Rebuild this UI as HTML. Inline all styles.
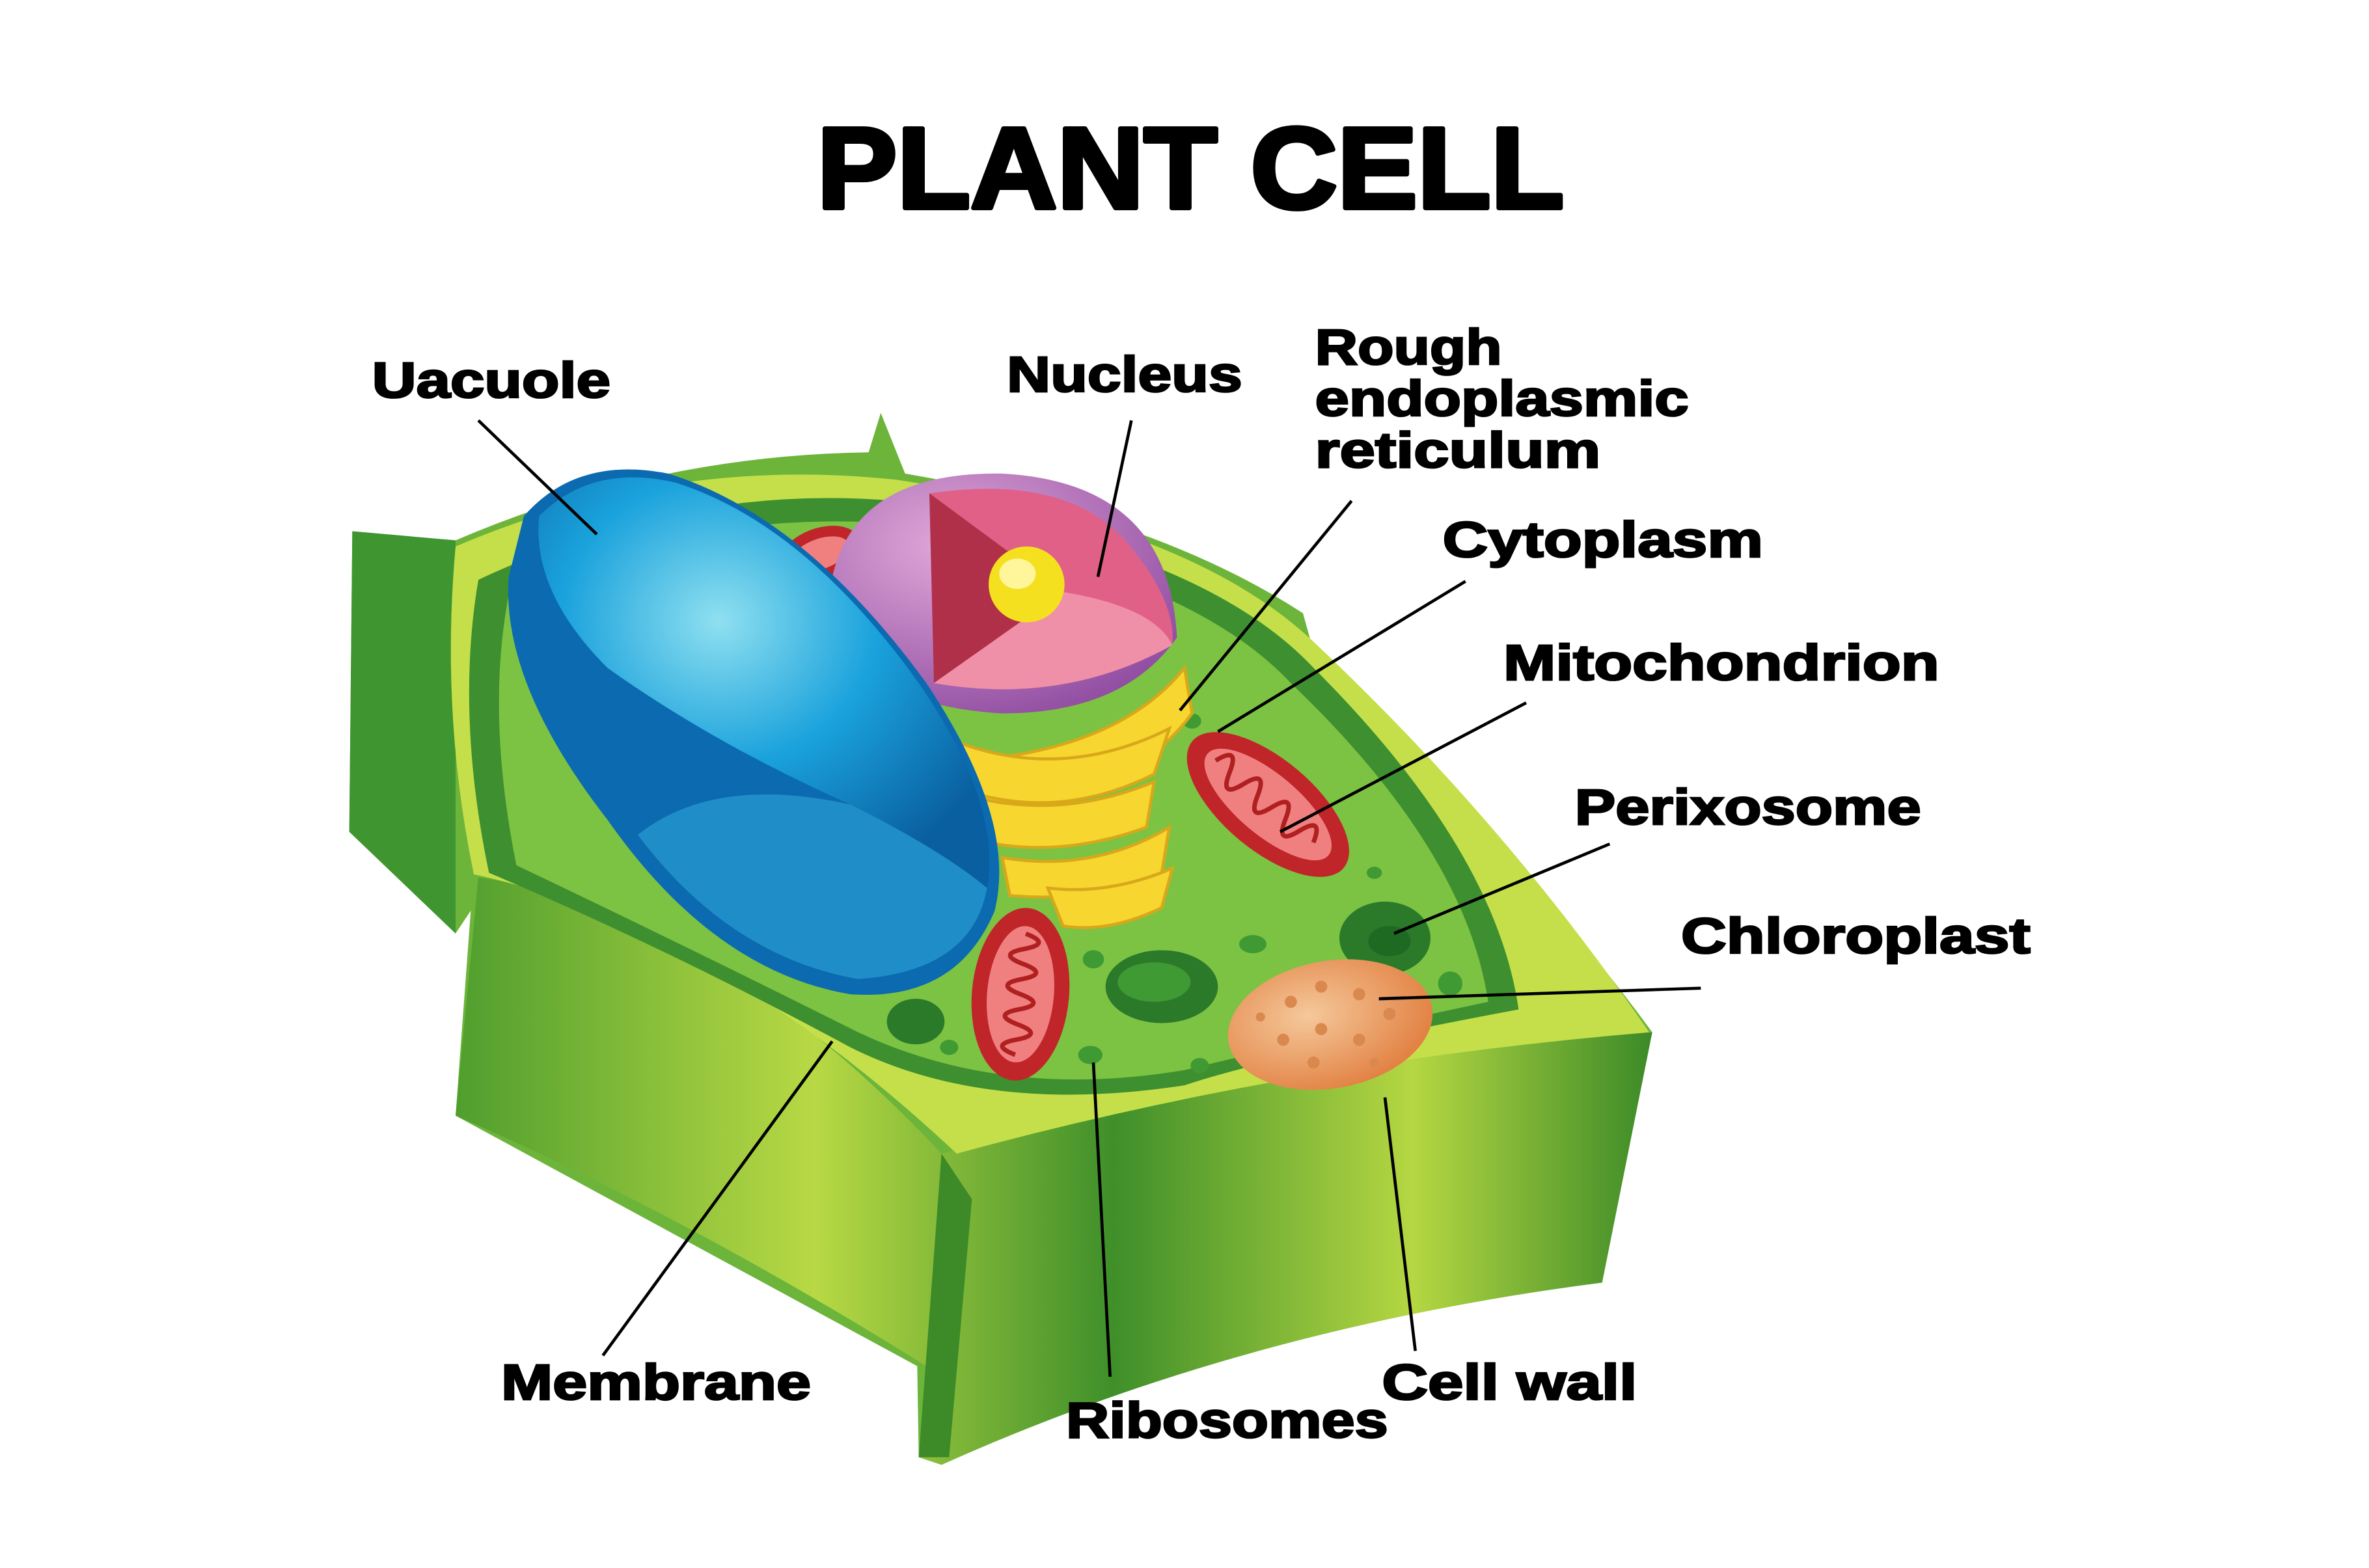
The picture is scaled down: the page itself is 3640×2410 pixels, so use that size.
<!DOCTYPE html>
<html><head><meta charset="utf-8"><style>html,body{margin:0;padding:0;background:#fff}svg{display:block}</style></head>
<body>
<svg width="3640" height="2410" viewBox="0 0 1560 1033" preserveAspectRatio="none" xmlns="http://www.w3.org/2000/svg">
<defs>
<linearGradient id="wall" x1="0" y1="0" x2="1" y2="0">
<stop offset="0" stop-color="#4f9e2e"/><stop offset="0.3" stop-color="#b8d944"/><stop offset="0.55" stop-color="#3f8f2a"/><stop offset="0.8" stop-color="#b5d742"/><stop offset="1" stop-color="#3c8a28"/></linearGradient>
<radialGradient id="vac" cx="0.4" cy="0.35" r="0.7"><stop offset="0" stop-color="#8fe0f0"/><stop offset="0.5" stop-color="#1aa2dc"/><stop offset="1" stop-color="#0a5fa0"/></radialGradient>
<radialGradient id="nuc" cx="0.35" cy="0.3" r="0.8"><stop offset="0" stop-color="#e0a8d8"/><stop offset="1" stop-color="#8e4aa0"/></radialGradient>
<radialGradient id="per" cx="0.4" cy="0.4" r="0.7"><stop offset="0" stop-color="#f5c89a"/><stop offset="1" stop-color="#e07a3a"/></radialGradient>
</defs>
<rect width="1560" height="1033" fill="#fff"/>
<text x="538" y="137" font-family="Liberation Sans, sans-serif" font-weight="bold" font-size="76" textLength="492" lengthAdjust="spacingAndGlyphs" fill="#000" stroke="#000" stroke-width="3" stroke-linejoin="round">PLANT CELL</text>
<!-- outer wall -->
<path d="M232,350 L300,356 Q430,300 572,298 L580,272 L596,312 Q760,340 858,404 L868,440 Q1000,560 1088,680 L1055,845 Q820,875 620,965 L605,960 L604,900 L300,735 L310,600 L300,615 L230,548 Z" fill="#6db43a"/>
<path d="M232,350 L300,356 L300,615 L230,548 Z" fill="#3f9530"/>
<!-- front band -->
<path d="M315,578 Q470,600 620,760 Q850,700 1088,680 L1055,845 Q820,875 620,965 L605,960 L610,900 Q450,800 300,735 Z" fill="url(#wall)"/>
<path d="M620,760 L640,790 L625,960 L605,960 Z" fill="#3d8a28"/>
<!-- top rim light -->
<path d="M300,360 Q440,300 590,316 Q780,345 862,420 Q990,540 1086,680 Q850,700 630,760 Q470,610 312,576 Q290,470 300,360Z" fill="#c4df4a"/>
<!-- cytoplasm -->
<path d="M315,382 Q450,318 590,330 Q790,360 865,440 Q985,560 1000,665 Q840,695 780,715 Q650,735 560,690 Q440,625 322,575 Q300,470 315,382Z" fill="#3e8f2f"/>
<path d="M335,392 Q455,335 590,345 Q780,375 850,450 Q965,560 980,660 Q840,690 780,705 Q660,725 565,680 Q445,620 340,570 Q320,470 335,392Z" fill="#7cc243"/>
<!-- ribosome dots -->
<g fill="#3f9a34">
<ellipse cx="490" cy="360" rx="6" ry="4"/><ellipse cx="520" cy="395" rx="7" ry="5"/><ellipse cx="785" cy="475" rx="6" ry="5"/><ellipse cx="845" cy="520" rx="6" ry="4"/><ellipse cx="870" cy="545" rx="5" ry="4"/><ellipse cx="720" cy="632" rx="7" ry="6"/><ellipse cx="825" cy="622" rx="9" ry="6"/><ellipse cx="718" cy="695" rx="8" ry="6"/><ellipse cx="625" cy="690" rx="6" ry="5"/><ellipse cx="955" cy="648" rx="8" ry="8"/><ellipse cx="790" cy="702" rx="6" ry="5"/><ellipse cx="905" cy="575" rx="5" ry="4"/>
</g>
<!-- green blobs -->
<ellipse cx="765" cy="650" rx="37" ry="24" fill="#2b7a2a"/><ellipse cx="760" cy="647" rx="24" ry="13" fill="#3f9a34"/>
<ellipse cx="912" cy="618" rx="30" ry="24" fill="#2b7a2a"/><ellipse cx="915" cy="620" rx="14" ry="10" fill="#1f6a22"/>
<ellipse cx="603" cy="673" rx="19" ry="15" fill="#2b7a2a"/>
<!-- peroxisome/orange -->
<ellipse cx="876" cy="675" rx="68" ry="42" fill="url(#per)" transform="rotate(-10 876 675)"/>
<g fill="#d9884e"><circle cx="850" cy="660" r="4"/><circle cx="870" cy="650" r="4"/><circle cx="895" cy="655" r="4"/><circle cx="915" cy="668" r="4"/><circle cx="845" cy="685" r="4"/><circle cx="870" cy="678" r="4"/><circle cx="895" cy="685" r="4"/><circle cx="865" cy="700" r="4"/><circle cx="905" cy="700" r="3"/><circle cx="830" cy="670" r="3"/></g>
<!-- mitochondria -->
<g transform="rotate(40 835 530)"><ellipse cx="835" cy="530" rx="65" ry="30" fill="#c0252a"/><ellipse cx="835" cy="530" rx="52" ry="20" fill="#f08080"/><path d="M790,530 q6,-18 12,0 q6,18 12,0 q6,-18 12,0 q6,18 12,0 q6,-18 12,0 q6,18 12,0 q6,-18 12,0" fill="none" stroke="#b02020" stroke-width="3"/></g>
<g transform="rotate(95 672 655)"><ellipse cx="672" cy="655" rx="57" ry="32" fill="#c0252a"/><ellipse cx="672" cy="655" rx="45" ry="22" fill="#f08080"/><path d="M632,655 q5,-18 10,0 q5,18 10,0 q5,-18 10,0 q5,18 10,0 q5,-18 10,0 q5,18 10,0 q5,-18 10,0 q5,18 10,0" fill="none" stroke="#b02020" stroke-width="3"/></g>
<g transform="rotate(-20 540 365)"><ellipse cx="540" cy="365" rx="28" ry="17" fill="#c0252a"/><ellipse cx="540" cy="365" rx="20" ry="10" fill="#f08080"/></g>
<!-- ER -->
<g fill="#f7d630" stroke="#d9a81a" stroke-width="2">
<path d="M540,390 Q560,470 650,500 Q740,490 780,440 L785,470 Q740,530 650,530 Q560,500 535,420Z"/>
<path d="M610,480 Q690,520 770,480 L760,510 Q690,545 620,515Z"/>
<path d="M640,525 Q700,540 760,515 L755,545 Q700,565 650,555Z"/>
<path d="M660,565 Q720,575 770,545 L765,575 Q720,595 665,590Z"/>
<path d="M690,585 Q730,590 772,572 L765,598 Q730,615 700,610Z"/>
</g>
<!-- nucleus -->
<path d="M545,410 Q545,310 660,312 Q770,318 775,420 Q740,470 660,470 Q570,465 545,410Z" fill="url(#nuc)"/>
<path d="M615,450 L612,325 Q700,312 740,355 Q775,395 772,425 Q700,465 615,450Z" fill="#e06088"/>
<path d="M612,325 L615,450 L700,390 Z" fill="#b0304a"/>
<path d="M615,450 L700,390 Q760,400 772,425 Q700,465 615,450Z" fill="#f090a8"/>
<ellipse cx="676" cy="385" rx="25" ry="25" fill="#f5e020"/><ellipse cx="670" cy="378" rx="12" ry="10" fill="#fff59a"/>
<!-- vacuole -->
<path d="M345,340 Q380,300 440,312 Q530,340 610,450 Q670,540 655,600 Q630,660 560,655 Q470,640 400,540 Q330,450 335,380Z" fill="#0b6ab0"/>
<path d="M355,340 Q390,305 445,318 Q530,345 605,450 Q660,530 650,585 Q620,560 560,530 Q470,490 400,440 Q350,390 355,340Z" fill="url(#vac)"/>
<path d="M650,585 Q640,640 565,645 Q480,630 420,550 Q470,510 560,530 Q620,560 650,585Z" fill="#1f8ec8"/>
<!-- lines -->
<g stroke="#000" stroke-width="2" fill="none">
<line x1="315" y1="277" x2="393" y2="352"/><line x1="745" y1="277" x2="723" y2="380"/><line x1="890" y1="330" x2="777" y2="468"/><line x1="965" y1="383" x2="802" y2="482"/><line x1="1005" y1="463" x2="843" y2="548"/><line x1="1060" y1="556" x2="918" y2="615"/><line x1="1120" y1="651" x2="908" y2="658"/><line x1="397" y1="893" x2="548" y2="686"/><line x1="731" y1="907" x2="720" y2="700"/><line x1="932" y1="890" x2="912" y2="723"/>
</g>
<g font-family="Liberation Sans, sans-serif" font-weight="bold" font-size="33" fill="#000" stroke="#000" stroke-width="1.2" lengthAdjust="spacingAndGlyphs">
<text x="245" y="262" textLength="157" lengthAdjust="spacingAndGlyphs">Uacuole</text>
<text x="663" y="258" textLength="155" lengthAdjust="spacingAndGlyphs">Nucleus</text>
<text x="866" y="240" textLength="123" lengthAdjust="spacingAndGlyphs">Rough</text>
<text x="866" y="274" textLength="246" lengthAdjust="spacingAndGlyphs">endoplasmic</text>
<text x="866" y="308" textLength="188" lengthAdjust="spacingAndGlyphs">reticulum</text>
<text x="950" y="367" textLength="211" lengthAdjust="spacingAndGlyphs">Cytoplasm</text>
<text x="990" y="448" textLength="287" lengthAdjust="spacingAndGlyphs">Mitochondrion</text>
<text x="1037" y="543" textLength="228" lengthAdjust="spacingAndGlyphs">Perixosome</text>
<text x="1107" y="628" textLength="230" lengthAdjust="spacingAndGlyphs">Chloroplast</text>
<text x="330" y="922" textLength="204" lengthAdjust="spacingAndGlyphs">Membrane</text>
<text x="702" y="947" textLength="212" lengthAdjust="spacingAndGlyphs">Ribosomes</text>
<text x="910" y="922" textLength="168" lengthAdjust="spacingAndGlyphs">Cell wall</text>
</g>
</svg>
</body></html>
